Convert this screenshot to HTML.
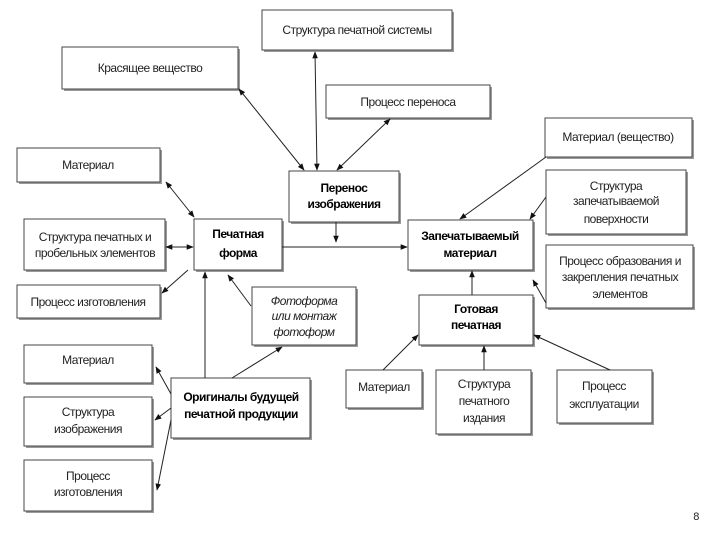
<!DOCTYPE html>
<html><head><meta charset="utf-8"><style>
html,body{margin:0;padding:0;background:#fff;width:720px;height:540px;overflow:hidden}
svg{display:block}
text{font-family:"Liberation Sans",sans-serif;font-size:12px;fill:#222;text-anchor:middle;letter-spacing:-0.5px}
.b{font-weight:bold;fill:#000}
.i{font-style:italic}
rect.s{fill:#9a9a9a}
rect.m{fill:#fff;stroke:#444;stroke-width:1}
line{stroke:#222;stroke-width:1}
</style></head><body>
<svg width="720" height="540" viewBox="0 0 720 540">
<defs><marker id="a" viewBox="0 0 10 10" refX="9" refY="5" markerWidth="7" markerHeight="7" orient="auto-start-reverse"><path d="M0,1 L10,5 L0,9 z" fill="#111"/></marker></defs>
<g id="boxes">
<rect class="s" x="264" y="12" width="190" height="40"/><rect class="m" x="262" y="10" width="190" height="40"/>
<rect class="s" x="64" y="49" width="176" height="42"/><rect class="m" x="62" y="47" width="176" height="42"/>
<rect class="s" x="328" y="87" width="164" height="33"/><rect class="m" x="326" y="85" width="164" height="33"/>
<rect class="s" x="547" y="120" width="147" height="39"/><rect class="m" x="545" y="118" width="147" height="39"/>
<rect class="s" x="19" y="150" width="143" height="34"/><rect class="m" x="17" y="148" width="143" height="34"/>
<rect class="s" x="291" y="173" width="110" height="51"/><rect class="m" x="289" y="171" width="110" height="51"/>
<rect class="s" x="548" y="172" width="140" height="64"/><rect class="m" x="546" y="170" width="140" height="64"/>
<rect class="s" x="196" y="221" width="88" height="51"/><rect class="m" x="194" y="219" width="88" height="51"/>
<rect class="s" x="26" y="221" width="141" height="51"/><rect class="m" x="24" y="219" width="141" height="51"/>
<rect class="s" x="410" y="222" width="125" height="50"/><rect class="m" x="408" y="220" width="125" height="50"/>
<rect class="s" x="548" y="247" width="147" height="63"/><rect class="m" x="546" y="245" width="147" height="63"/>
<rect class="s" x="19" y="287" width="143" height="33"/><rect class="m" x="17" y="285" width="143" height="33"/>
<rect class="s" x="254" y="289" width="104" height="58"/><rect class="m" x="252" y="287" width="104" height="58"/>
<rect class="s" x="421" y="297" width="114" height="50"/><rect class="m" x="419" y="295" width="114" height="50"/>
<rect class="s" x="26" y="347" width="128" height="38"/><rect class="m" x="24" y="345" width="128" height="38"/>
<rect class="s" x="173" y="380" width="139" height="60"/><rect class="m" x="171" y="378" width="139" height="60"/>
<rect class="s" x="348" y="372" width="76" height="38"/><rect class="m" x="346" y="370" width="76" height="38"/>
<rect class="s" x="438" y="372" width="95" height="64"/><rect class="m" x="436" y="370" width="95" height="64"/>
<rect class="s" x="559" y="372" width="95" height="53"/><rect class="m" x="557" y="370" width="95" height="53"/>
<rect class="s" x="26" y="399" width="128" height="49"/><rect class="m" x="24" y="397" width="128" height="49"/>
<rect class="s" x="26" y="462" width="128" height="51"/><rect class="m" x="24" y="460" width="128" height="51"/>
</g>
<g>
<line x1="315" y1="52" x2="317" y2="170" marker-start="url(#a)" marker-end="url(#a)"/>
<line x1="239" y1="89" x2="304" y2="170" marker-start="url(#a)" marker-end="url(#a)"/>
<line x1="390" y1="119" x2="337" y2="170" marker-start="url(#a)" marker-end="url(#a)"/>
<line x1="336" y1="222" x2="336" y2="242" marker-end="url(#a)"/>
<line x1="282" y1="247" x2="407" y2="247" marker-end="url(#a)"/>
<line x1="166" y1="182" x2="194" y2="217" marker-start="url(#a)" marker-end="url(#a)"/>
<line x1="166" y1="247" x2="193" y2="247" marker-start="url(#a)" marker-end="url(#a)"/>
<line x1="188" y1="270" x2="162" y2="293" marker-end="url(#a)"/>
<line x1="251" y1="306" x2="228" y2="275" marker-end="url(#a)"/>
<line x1="205" y1="378" x2="205" y2="272" marker-end="url(#a)"/>
<line x1="232" y1="378" x2="282" y2="347" marker-end="url(#a)"/>
<line x1="171" y1="394" x2="156" y2="367" marker-end="url(#a)"/>
<line x1="171" y1="408" x2="155" y2="420" marker-end="url(#a)"/>
<line x1="171" y1="420" x2="157" y2="490" marker-end="url(#a)"/>
<line x1="546" y1="157" x2="460" y2="219" marker-end="url(#a)"/>
<line x1="546" y1="197" x2="530" y2="219" marker-end="url(#a)"/>
<line x1="546" y1="303" x2="533" y2="280" marker-end="url(#a)"/>
<line x1="472" y1="295" x2="472" y2="271" marker-end="url(#a)"/>
<line x1="383" y1="370" x2="418" y2="335" marker-end="url(#a)"/>
<line x1="484" y1="370" x2="484" y2="346" marker-end="url(#a)"/>
<line x1="610" y1="370" x2="534" y2="335" marker-end="url(#a)"/>
</g>
<g>
<text x="357" y="34">Структура печатной системы</text>
<text x="150" y="72">Красящее вещество</text>
<text x="408" y="106">Процесс переноса</text>
<text x="618" y="141">Материал (вещество)</text>
<text x="88" y="169">Материал</text>
<text class="b" x="344" y="192">Перенос</text><text class="b" x="344" y="208">изображения</text>
<text x="616" y="190">Структура</text><text x="616" y="205">запечатываемой</text><text x="616" y="223">поверхности</text>
<text class="b" x="238" y="238">Печатная</text><text class="b" x="238" y="257">форма</text>
<text x="95" y="241">Структура печатных и</text><text x="95" y="257">пробельных элементов</text>
<text class="b" x="470" y="240">Запечатываемый</text><text class="b" x="470" y="257">материал</text>
<text x="620" y="265">Процесс образования и</text><text x="620" y="281">закрепления печатных</text><text x="620" y="298">элементов</text>
<text x="88" y="306">Процесс изготовления</text>
<text class="i" x="304" y="305">Фотоформа</text><text class="i" x="304" y="320">или монтаж</text><text class="i" x="304" y="336">фотоформ</text>
<text class="b" x="476" y="313">Готовая</text><text class="b" x="476" y="329">печатная</text>
<text x="88" y="364">Материал</text>
<text class="b" x="241" y="401">Оригиналы будущей</text><text class="b" x="241" y="418">печатной продукции</text>
<text x="384" y="391">Материал</text>
<text x="484" y="388">Структура</text><text x="484" y="405">печатного</text><text x="484" y="422">издания</text>
<text x="604" y="390">Процесс</text><text x="604" y="408">эксплуатации</text>
<text x="88" y="416">Структура</text><text x="88" y="433">изображения</text>
<text x="88" y="480">Процесс</text><text x="88" y="496">изготовления</text>
<text x="696" y="520" style="font-size:11px">8</text>
</g>
</svg>
</body></html>
